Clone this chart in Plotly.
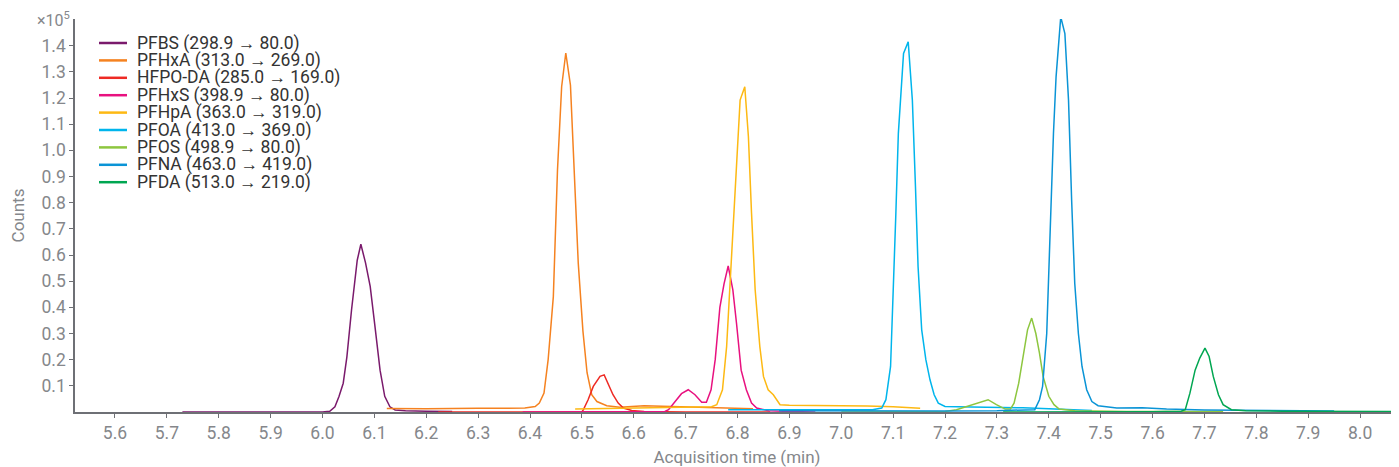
import plotly.graph_objects as go

# Retention times (min) and intensities (x10^5 counts)
names = [
    "PFBS (298.9 → 80.0)", "PFHxA (313.0 → 269.0)", "HFPO-DA (285.0 → 169.0)",
    "PFHxS (398.9 → 80.0)", "PFHpA (363.0 → 319.0)", "PFOA (413.0 → 369.0)",
    "PFOS (498.9 → 80.0)", "PFNA (463.0 → 419.0)", "PFDA (513.0 → 219.0)",
]
colors = ["#7a1a6c", "#f58220", "#ee2a24", "#e8117f", "#fdb913",
          "#00b5ec", "#8dc63f", "#0a94d6", "#00a651"]

pfbs_t = [5.73, 5.90, 6.00, 6.014, 6.024, 6.032, 6.040, 6.047, 6.056, 6.067, 6.074, 6.083,
          6.092, 6.101, 6.111, 6.120, 6.130, 6.140, 6.160, 6.200, 6.250]
pfbs_y = [0.0, 0.0, 0.0, 0.003, 0.02, 0.06, 0.11, 0.21, 0.39, 0.58, 0.641, 0.57,
          0.48, 0.33, 0.16, 0.06, 0.02, 0.008, 0.005, 0.003, 0.002]

pfhxa_t = [6.124, 6.20, 6.30, 6.39, 6.410, 6.418, 6.427, 6.435, 6.445, 6.453, 6.461, 6.469,
           6.478, 6.485, 6.493, 6.502, 6.510, 6.519, 6.529, 6.548, 6.573, 6.62, 6.70, 6.75, 6.83]
pfhxa_y = [0.013, 0.012, 0.014, 0.015, 0.021, 0.034, 0.072, 0.20, 0.441, 0.925, 1.243, 1.372,
           1.249, 0.95, 0.57, 0.31, 0.15, 0.066, 0.04, 0.024, 0.018, 0.024, 0.02, 0.018, 0.012]

hfpo_t = [6.223, 6.40, 6.50, 6.503, 6.512, 6.522, 6.535, 6.543, 6.550, 6.560, 6.570, 6.580,
          6.596, 6.620, 6.70, 6.863]
hfpo_y = [0.0, 0.0, 0.0, 0.009, 0.047, 0.098, 0.136, 0.142, 0.11, 0.066, 0.034, 0.015,
          0.006, 0.002, 0.0, 0.0]

pfhxs_t = [6.386, 6.50, 6.60, 6.660, 6.667, 6.680, 6.692, 6.705, 6.718, 6.731, 6.740, 6.749,
           6.757, 6.766, 6.774, 6.782, 6.791, 6.798, 6.807, 6.817, 6.827, 6.837, 6.860, 6.900, 6.950]
pfhxs_y = [0.0, 0.0, 0.0, 0.002, 0.009, 0.04, 0.07, 0.085, 0.066, 0.037, 0.037, 0.085,
           0.20, 0.40, 0.49, 0.558, 0.467, 0.34, 0.16, 0.085, 0.034, 0.015, 0.005, 0.002, 0.0]

pfhpa_t = [6.487, 6.55, 6.60, 6.65, 6.70, 6.75, 6.760, 6.771, 6.779, 6.786, 6.792, 6.798,
           6.805, 6.814, 6.821, 6.827, 6.834, 6.843, 6.850, 6.859, 6.869, 6.882, 6.90, 6.95,
           7.00, 7.05, 7.10, 7.152]
pfhpa_y = [0.011, 0.013, 0.015, 0.017, 0.018, 0.02, 0.028, 0.085, 0.25, 0.505, 0.747, 0.976,
           1.192, 1.243, 1.052, 0.76, 0.467, 0.25, 0.136, 0.085, 0.066, 0.028, 0.026, 0.025,
           0.025, 0.023, 0.02, 0.014]

pfoa_t = [6.782, 6.90, 7.00, 7.06, 7.078, 7.086, 7.095, 7.100, 7.105, 7.110, 7.116, 7.120,
          7.129, 7.137, 7.143, 7.148, 7.155, 7.163, 7.171, 7.179, 7.187, 7.200, 7.25, 7.30,
          7.35, 7.40, 7.483]
pfoa_y = [0.009, 0.008, 0.008, 0.009, 0.015, 0.047, 0.174, 0.43, 0.747, 1.065, 1.256, 1.37,
          1.415, 1.192, 0.861, 0.556, 0.314, 0.20, 0.123, 0.066, 0.034, 0.021, 0.019, 0.018,
          0.016, 0.012, 0.006]

pfos_t = [7.00, 7.10, 7.20, 7.222, 7.242, 7.264, 7.283, 7.299, 7.316, 7.326, 7.333, 7.342,
          7.350, 7.359, 7.367, 7.375, 7.382, 7.389, 7.400, 7.410, 7.420, 7.45, 7.55, 7.736]
pfos_y = [0.0, 0.0, 0.002, 0.009, 0.021, 0.037, 0.047, 0.028, 0.011, 0.011, 0.034, 0.11,
          0.212, 0.314, 0.359, 0.30, 0.225, 0.136, 0.06, 0.028, 0.011, 0.005, 0.002, 0.002]

pfna_t = [6.88, 7.00, 7.10, 7.20, 7.30, 7.373, 7.382, 7.388, 7.396, 7.402, 7.409, 7.414,
          7.423, 7.431, 7.438, 7.444, 7.450, 7.457, 7.464, 7.473, 7.483, 7.495, 7.531, 7.58,
          7.627, 7.70, 7.80, 7.95]
pfna_y = [0.005, 0.004, 0.004, 0.004, 0.005, 0.009, 0.047, 0.098, 0.30, 0.683, 1.065, 1.281,
          1.51, 1.446, 1.192, 0.81, 0.492, 0.30, 0.174, 0.085, 0.04, 0.024, 0.015, 0.016,
          0.011, 0.008, 0.006, 0.004]

pfda_t = [7.312, 7.50, 7.60, 7.655, 7.663, 7.672, 7.682, 7.691, 7.701, 7.709, 7.717, 7.727,
          7.736, 7.752, 7.78, 7.85, 7.95, 8.08]
pfda_y = [0.0, 0.0, 0.001, 0.003, 0.009, 0.072, 0.16, 0.206, 0.244, 0.212, 0.136, 0.066,
          0.028, 0.009, 0.005, 0.003, 0.002, 0.002]

series_t = [pfbs_t, pfhxa_t, hfpo_t, pfhxs_t, pfhpa_t, pfoa_t, pfos_t, pfna_t, pfda_t]
series_y = [pfbs_y, pfhxa_y, hfpo_y, pfhxs_y, pfhpa_y, pfoa_y, pfos_y, pfna_y, pfda_y]

x_ticks = [5.6, 5.7, 5.8, 5.9, 6.0, 6.1, 6.2, 6.3, 6.4, 6.5, 6.6, 6.7, 6.8, 6.9, 7.0,
           7.1, 7.2, 7.3, 7.4, 7.5, 7.6, 7.7, 7.8, 7.9, 8.0]
y_ticks = [0.1, 0.2, 0.3, 0.4, 0.5, 0.6, 0.7, 0.8, 0.9, 1.0, 1.1, 1.2, 1.3, 1.4]

GRAY = "#85878b"
AXIS = "#6e7075"
TEXT = "#333333"
FONT = "Roboto"

# Page body has an 8px default margin; figure sized so the plot area matches.
FIG_W, FIG_H = 1391, 459
M_L, M_R, M_T, M_B = 67, 0, 11, 55
PLOT_W = FIG_W - M_L - M_R
PLOT_H = FIG_H - M_T - M_B


def px_x(dx):
    """horizontal pixel offset from plot left -> paper fraction"""
    return dx / PLOT_W


def px_y(dy):
    """vertical pixel offset from plot top -> paper fraction"""
    return 1 - dy / PLOT_H


fig = go.Figure()
for n, c, t, y in zip(names, colors, series_t, series_y):
    fig.add_trace(go.Scatter(x=t, y=y, mode="lines", name=n, showlegend=False,
                             line=dict(color=c, width=1.5)))

# Compact legend (tight line spacing like the original)
annotations = []
shapes = []
LEG_TOP, LEG_STEP = 24, 17.4
for i, (n, c) in enumerate(zip(names, colors)):
    yy = px_y(LEG_TOP + i * LEG_STEP)
    shapes.append(dict(type="line", xref="paper", yref="paper",
                       x0=px_x(24), x1=px_x(52), y0=yy, y1=yy,
                       line=dict(color=c, width=2.5)))
    annotations.append(dict(text=n, xref="paper", yref="paper", x=px_x(60), y=yy,
                            xanchor="left", yanchor="middle", showarrow=False,
                            font=dict(family=FONT, size=17.5, color=TEXT)))

annotations.append(dict(text="×10<sup>5</sup>", xref="paper", yref="paper", x=0, y=1.0,
                        xanchor="right", yanchor="middle", xshift=-3, yshift=0,
                        showarrow=False, font=dict(family=FONT, size=16, color=GRAY)))

fig.update_layout(
    width=FIG_W, height=FIG_H,
    margin=dict(l=M_L, r=M_R, t=M_T, b=M_B),
    paper_bgcolor="white", plot_bgcolor="white",
    font=dict(family=FONT, color=GRAY, size=16),
    showlegend=False,
    xaxis=dict(range=[5.523, 8.075], tickvals=x_ticks, ticktext=[f"{v:.1f}" for v in x_ticks],
               showgrid=False, zeroline=False, showline=True, linecolor=AXIS, linewidth=1.5,
               ticks="outside", ticklen=4, tickcolor=AXIS,
               tickfont=dict(family=FONT, size=17.5, color=GRAY),
               title=dict(text="Acquisition time (min)", font=dict(family=FONT, size=17, color=GRAY),
                          standoff=9)),
    yaxis=dict(range=[0, 1.502], tickvals=y_ticks, ticktext=[f"{v:.1f}" for v in y_ticks],
               showgrid=False, zeroline=False, showline=True, linecolor=AXIS, linewidth=1.5,
               ticks="outside", ticklen=4, tickcolor=AXIS,
               tickfont=dict(family=FONT, size=17.5, color=GRAY),
               title=dict(text="Counts", font=dict(family=FONT, size=17, color=GRAY), standoff=13)),
    annotations=annotations,
    shapes=shapes,
)

fig.write_html("out.html")
